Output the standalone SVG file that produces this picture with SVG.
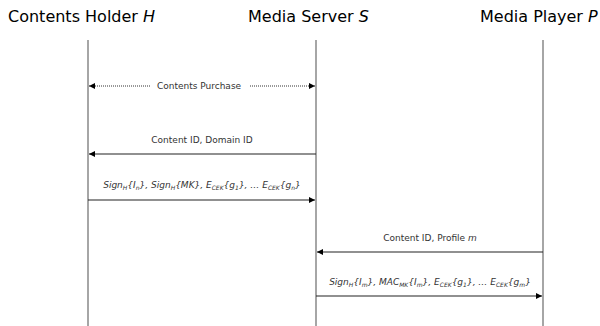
<svg xmlns="http://www.w3.org/2000/svg" width="600" height="326" viewBox="0 0 600 326">
<style>
.title{font-family:"DejaVu Sans","Liberation Sans",sans-serif;font-size:16px;fill:#000}
.lbl{font-family:"DejaVu Sans","Liberation Sans",sans-serif;font-size:9px;fill:#333}
.it{font-style:italic}
.life{stroke:#888;stroke-width:1.5;fill:none}
.msg{stroke:#222;stroke-width:1.2;fill:none}
.dot{stroke:#333;stroke-width:1;stroke-dasharray:1 1;fill:none}
</style>
<defs>
<marker id="ah" viewBox="0 0 10 10" refX="10" refY="5" markerWidth="7" markerHeight="6" orient="auto-start-reverse" markerUnits="userSpaceOnUse">
<path d="M0,0 L10,5 L0,10 z" fill="#000"/>
</marker>
</defs>
<rect width="600" height="326" fill="#fff"/>
<g id="holder">
<text class="title" x="8" y="22">Contents Holder <tspan class="it">H</tspan></text>
<line class="life" x1="88" y1="40" x2="88" y2="326"/>
</g>
<g id="server">
<text class="title" x="248" y="22">Media Server <tspan class="it">S</tspan></text>
<line class="life" x1="316" y1="40" x2="316" y2="326"/>
</g>
<g id="player">
<text class="title" x="480" y="22">Media Player <tspan class="it">P</tspan></text>
<line class="life" x1="543" y1="40" x2="543" y2="326"/>
</g>
<g id="connectors">
<line class="dot" x1="89" y1="86" x2="150" y2="86" marker-start="url(#ah)"/>
<line class="dot" x1="250" y1="86" x2="315" y2="86" marker-end="url(#ah)"/>
<text class="lbl" x="199" y="89" text-anchor="middle">Contents Purchase</text>

<line class="msg" x1="316" y1="154" x2="89" y2="154" marker-end="url(#ah)"/>
<text class="lbl" x="202" y="143" text-anchor="middle">Content ID, Domain ID</text>

<line class="msg" x1="88" y1="200" x2="315" y2="200" marker-end="url(#ah)"/>
<text class="lbl it" x="202" y="188" text-anchor="middle">Sign<tspan dy="2" font-size="6">H</tspan><tspan dy="-2">{I</tspan><tspan dy="2" font-size="6">n</tspan><tspan dy="-2">}, Sign</tspan><tspan dy="2" font-size="6">H</tspan><tspan dy="-2">{MK}, E</tspan><tspan dy="2" font-size="6">CEK</tspan><tspan dy="-2">{g</tspan><tspan dy="2" font-size="6">1</tspan><tspan dy="-2">}, … E</tspan><tspan dy="2" font-size="6">CEK</tspan><tspan dy="-2">{g</tspan><tspan dy="2" font-size="6">n</tspan><tspan dy="-2">}</tspan></text>

<line class="msg" x1="543" y1="252" x2="317" y2="252" marker-end="url(#ah)"/>
<text class="lbl" x="430" y="241" text-anchor="middle">Content ID, Profile <tspan class="it">m</tspan></text>

<line class="msg" x1="316" y1="296" x2="542" y2="296" marker-end="url(#ah)"/>
<text class="lbl it" x="430" y="285" text-anchor="middle">Sign<tspan dy="2" font-size="6">H</tspan><tspan dy="-2">{I</tspan><tspan dy="2" font-size="6">m</tspan><tspan dy="-2">}, MAC</tspan><tspan dy="2" font-size="6">MK</tspan><tspan dy="-2">{I</tspan><tspan dy="2" font-size="6">m</tspan><tspan dy="-2">}, E</tspan><tspan dy="2" font-size="6">CEK</tspan><tspan dy="-2">{g</tspan><tspan dy="2" font-size="6">1</tspan><tspan dy="-2">}, … E</tspan><tspan dy="2" font-size="6">CEK</tspan><tspan dy="-2">{g</tspan><tspan dy="2" font-size="6">m</tspan><tspan dy="-2">}</tspan></text>
</g>
</svg>
